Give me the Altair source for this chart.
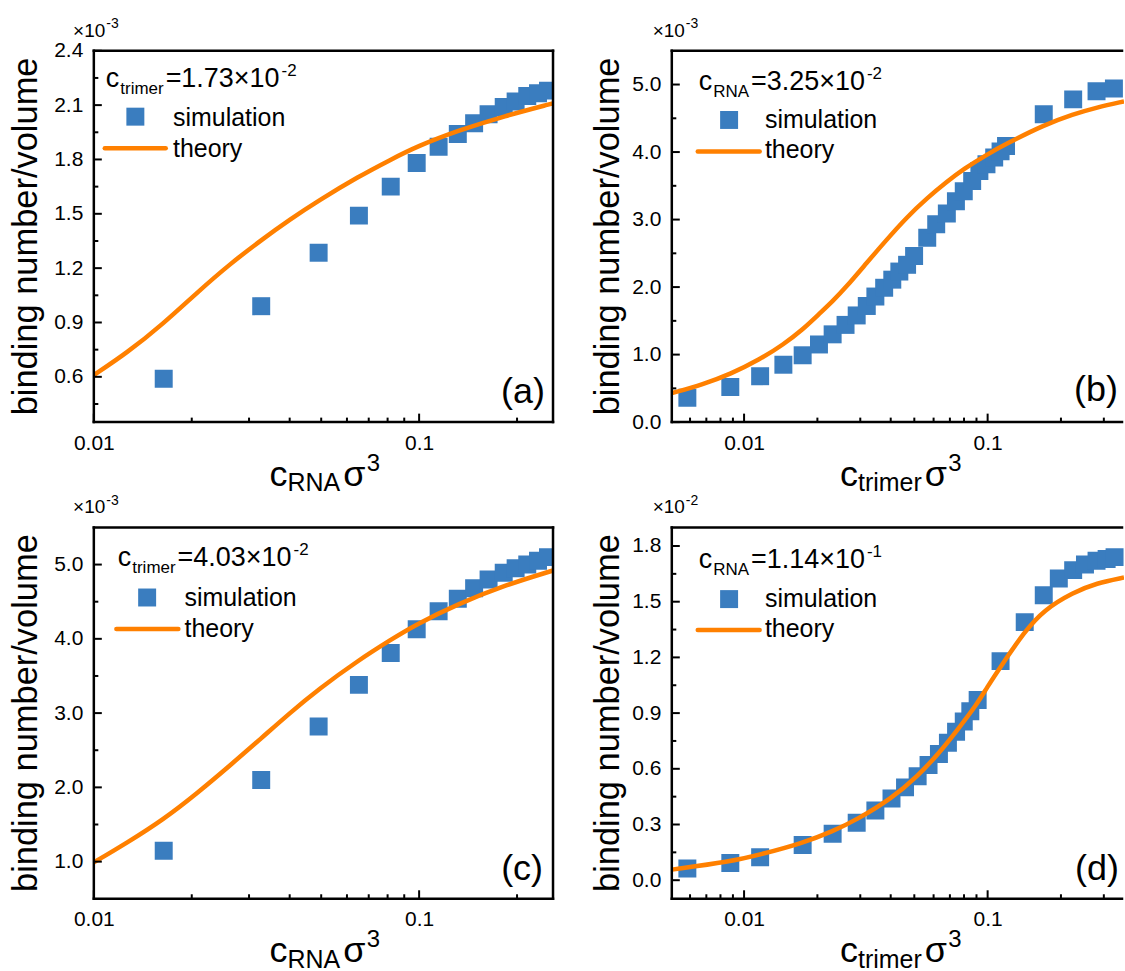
import altair as alt

FONT = "Liberation Sans"
BLUE = "#3A7DBF"
ORANGE = "#FF8000"

# ---------------- data ----------------
# panel (a): x = c_RNA sigma^3, y in units of 1e-3
a_sim_x = [0.0164, 0.0327, 0.0491, 0.0653, 0.0818, 0.0983, 0.1148, 0.1315, 0.1476, 0.1635, 0.182, 0.198, 0.215, 0.232, 0.249]
a_sim_y = [0.59, 0.99, 1.285, 1.49, 1.65, 1.78, 1.87, 1.94, 2.0, 2.05, 2.09, 2.12, 2.15, 2.165, 2.18]
a_th_x = [0.01, 0.0126, 0.0164, 0.0209, 0.0263, 0.0327, 0.04, 0.049, 0.065, 0.082, 0.0985, 0.132, 0.183, 0.258]
a_th_y = [0.61, 0.73, 0.895, 1.07, 1.225, 1.355, 1.468, 1.572, 1.705, 1.80, 1.872, 1.96, 2.04, 2.11]

# panel (c): x = c_RNA sigma^3, y in units of 1e-3
c_sim_x = a_sim_x
c_sim_y = [1.148, 2.10, 2.82, 3.38, 3.81, 4.13, 4.37, 4.54, 4.68, 4.80, 4.89, 4.95, 5.00, 5.05, 5.10]
c_th_x = a_th_x
c_th_y = [0.99, 1.25, 1.57, 1.93, 2.30, 2.66, 3.00, 3.32, 3.71, 3.99, 4.20, 4.47, 4.72, 4.92]

# panel (b): x = c_trimer sigma^3, y in units of 1e-3
b_sim_x = [0.00585, 0.00878, 0.01164, 0.0145, 0.0174, 0.0203, 0.0231, 0.0261, 0.029, 0.0319,
           0.0346, 0.0376, 0.0406, 0.0434, 0.0467, 0.0499, 0.0565, 0.0615, 0.068, 0.0741,
           0.0798, 0.0864, 0.0925, 0.0989, 0.1064, 0.113, 0.119, 0.170, 0.2245, 0.28, 0.33]
b_sim_y = [0.36, 0.52, 0.68, 0.85, 0.99, 1.15, 1.30, 1.44, 1.58, 1.72,
           1.86, 1.99, 2.11, 2.23, 2.33, 2.46, 2.73, 2.93, 3.09, 3.27,
           3.42, 3.57, 3.72, 3.82, 3.92, 4.01, 4.09, 4.56, 4.78, 4.90, 4.94]
b_th_x = [0.00505, 0.0068, 0.00878, 0.01164, 0.0145, 0.0174, 0.0203, 0.0231, 0.0261, 0.0319,
          0.0376, 0.0467, 0.0565, 0.068, 0.0798, 0.0989, 0.119, 0.170, 0.2245, 0.28, 0.363]
b_th_y = [0.43, 0.56, 0.71, 0.93, 1.15, 1.37, 1.60, 1.79, 1.99, 2.36,
          2.66, 3.04, 3.32, 3.56, 3.75, 3.96, 4.12, 4.40, 4.56, 4.66, 4.75]

# panel (d): x = c_trimer sigma^3, y in units of 1e-2
d_sim_x = [0.00585, 0.00878, 0.01164, 0.0174, 0.0231, 0.029, 0.0346, 0.0403, 0.0458, 0.0516,
           0.0572, 0.0631, 0.0687, 0.0742, 0.0798, 0.0849, 0.091, 0.113, 0.142, 0.170,
           0.196, 0.2245, 0.251, 0.28, 0.308, 0.332]
d_sim_y = [0.063, 0.093, 0.124, 0.19, 0.25, 0.31, 0.375, 0.44, 0.50, 0.56,
           0.62, 0.68, 0.74, 0.80, 0.855, 0.91, 0.97, 1.18, 1.39, 1.535,
           1.625, 1.67, 1.70, 1.72, 1.73, 1.74]
d_th_x = [0.00505, 0.00878, 0.01164, 0.0174, 0.0231, 0.029, 0.0403, 0.0516, 0.0631, 0.0742,
          0.091, 0.0989, 0.113, 0.142, 0.170, 0.2245, 0.28, 0.363]
d_th_y = [0.057, 0.10, 0.138, 0.20, 0.263, 0.326, 0.44, 0.56, 0.684, 0.80,
          0.953, 1.034, 1.15, 1.34, 1.455, 1.55, 1.60, 1.63]

# axis ticks
x_major = [0.01, 0.1]
a_x_minor = [0.02, 0.03, 0.04, 0.05, 0.06, 0.07, 0.08, 0.09, 0.2]
b_x_minor = [0.006, 0.007, 0.008, 0.009, 0.02, 0.03, 0.04, 0.05, 0.06, 0.07, 0.08, 0.09, 0.2, 0.3]
a_y_major = [0.6, 0.9, 1.2, 1.5, 1.8, 2.1, 2.4]
a_y_minor = [0.45, 0.75, 1.05, 1.35, 1.65, 1.95, 2.25]
b_y_major = [0.0, 1.0, 2.0, 3.0, 4.0, 5.0]
b_y_minor = [0.5, 1.5, 2.5, 3.5, 4.5]
c_y_major = [1.0, 2.0, 3.0, 4.0, 5.0]
c_y_minor = [1.5, 2.5, 3.5, 4.5]
d_y_major = [0.0, 0.3, 0.6, 0.9, 1.2, 1.5, 1.8]
d_y_minor = [0.15, 0.45, 0.75, 1.05, 1.35, 1.65]

# ---------------- layout ----------------
W1, W2, H = 460, 453, 372
COL_GAP, ROW_GAP = 119, 105.5

ARIAL = {'c': 500, 't': 278, 'r': 333, 'i': 222, 'm': 833, 'e': 556, 'R': 722, 'N': 722,
         'A': 667, '=': 584, '.': 278, '\u00d7': 584, '-': 333, '\u03c3': 600, '(': 333, ')': 333}


def tw(s, fs):
    return sum(ARIAL.get(ch, 556) for ch in s) * fs / 1000.0


ONE = alt.Data(values=[{}])


def txt(s, x, y, fs, angle=0, align="left"):
    return alt.Chart(ONE).mark_text(
        text=s, fontSize=fs, font=FONT, align=align, baseline="alphabetic",
        angle=angle, color="black"
    ).encode(x=alt.value(x), y=alt.value(y))


def rich(parts, x0, y0):
    layers = []
    x = x0
    for text, fs, dy, gap in parts:
        x += gap
        layers.append(txt(text, x, y0 + dy, fs))
        x += tw(text, fs)
    return layers


def panel(sim_x, sim_y, th_x, th_y, xdom, ydom, ymaj, ymin, xmin_ticks, W,
          annot, annot_xy, xtitle, xtitle_x, ytitle_x, mult, mult_x,
          leg_sq, leg_line, leg_text_x, leg_base, label, label_xy, right_border, anchor=False):
    xs = alt.Scale(type="log", domain=xdom, nice=False)
    ys = alt.Scale(domain=ydom, nice=False, zero=False)
    layers = []
    sim = alt.Chart(alt.Data(values=[{"x": x, "y": y} for x, y in zip(sim_x, sim_y)])).mark_square(
        size=324, color=BLUE, opacity=1, clip=True
    ).encode(
        x=alt.X("x:Q", scale=xs, axis=alt.Axis(values=x_major, format="~g", title=None,
                                                labelPadding=10, orient="bottom", labelFlush=False)),
        y=alt.Y("y:Q", scale=ys, axis=alt.Axis(values=ymaj, format=".1f", title=None,
                                                labelPadding=11, orient="left", labelFlush=False)),
    )
    layers.append(sim)
    th = alt.Chart(alt.Data(values=[{"x": x, "y": y} for x, y in zip(th_x, th_y)])).mark_line(
        color=ORANGE, strokeWidth=4.5, clip=True, interpolate="basis"
    ).encode(x=alt.X("x:Q", scale=xs), y=alt.Y("y:Q", scale=ys))
    layers.append(th)

    # ticks (drawn inward)
    for vals, ln in ((ymaj, 8), (ymin, 4.5)):
        layers.append(alt.Chart(alt.Data(values=[{"x": v} for v in vals])).mark_rule(
            color="black", strokeWidth=2).encode(
            y=alt.Y("x:Q", scale=ys), x=alt.value(0), x2=alt.value(ln)))
    for vals, ln in ((x_major, 8.5), (xmin_ticks, 4.5)):
        layers.append(alt.Chart(alt.Data(values=[{"x": v} for v in vals])).mark_rule(
            color="black", strokeWidth=2).encode(
            x=alt.X("x:Q", scale=xs), y=alt.value(H), y2=alt.value(H - ln)))

    # frame
    fr = dict(color="black", strokeWidth=2.5)
    xr = W if right_border else W - 2
    layers.append(alt.Chart(ONE).mark_rule(strokeCap="square", **fr).encode(
        x=alt.value(0), x2=alt.value(xr), y=alt.value(0)))
    layers.append(alt.Chart(ONE).mark_rule(strokeCap="square", **fr).encode(
        x=alt.value(0), x2=alt.value(xr), y=alt.value(H)))
    layers.append(alt.Chart(ONE).mark_rule(strokeCap="square", **fr).encode(
        x=alt.value(0), y=alt.value(0), y2=alt.value(H)))
    if right_border:
        layers.append(alt.Chart(ONE).mark_rule(strokeCap="square", **fr).encode(
            x=alt.value(W), y=alt.value(0), y2=alt.value(H)))

    # annotation
    layers += rich(annot, annot_xy[0], annot_xy[1])
    # legend
    layers.append(alt.Chart(ONE).mark_square(size=324, color=BLUE, opacity=1).encode(
        x=alt.value(leg_sq[0]), y=alt.value(leg_sq[1])))
    layers.append(alt.Chart(ONE).mark_rule(color=ORANGE, strokeWidth=4.5, strokeCap="round").encode(
        x=alt.value(leg_line[0]), x2=alt.value(leg_line[1]), y=alt.value(leg_line[2])))
    layers.append(txt("simulation", leg_text_x, leg_base[0], 25))
    layers.append(txt("theory", leg_text_x, leg_base[1], 25))
    # panel label
    layers.append(txt(label, label_xy[0], label_xy[1], 36, align="right"))
    # axis titles
    layers += rich(xtitle, xtitle_x, H + 63.5)
    layers.append(txt("binding number/volume", ytitle_x, H / 2, 34.5, angle=270, align="center"))
    # multiplier
    layers += rich(mult, mult_x, -14)
    if anchor:
        layers.append(alt.Chart(ONE).mark_rule(opacity=0).encode(
            x=alt.value(-93), x2=alt.value(-92), y=alt.value(-49)))
    return alt.layer(*layers).properties(width=W, height=H)


def ann(sub, val, sup):
    return [("c", 27, 0, 0), (sub, 17, 7, 1), ("=" + val + "\u00d710", 27, 0, 2), (sup, 17, -11, 2)]


def xt(sub):
    return [("c", 36, 0, 0), (sub, 25, 6, 0), ("\u03c3", 36, 0, 3), ("3", 24, -15, 2)]


def mult(exp):
    return [("\u00d710", 19, 0, 0), (exp, 14, -8.5, 1)]


pa = panel(a_sim_x, a_sim_y, a_th_x, a_th_y, [0.01, 0.258], [0.35, 2.4], a_y_major, a_y_minor, a_x_minor, W1,
           ann("trimer", "1.73", "-2"), (12, 36), xt("RNA"), 176, -57, mult("-3"), -20.8,
           (41.6, 66), (11, 72, 97.7), 79.3, (75, 106), "(a)", (452, 353), True, anchor=True)
pb = panel(b_sim_x, b_sim_y, b_th_x, b_th_y, [0.00505, 0.363], [0.0, 5.5], b_y_major, b_y_minor, b_x_minor, W2,
           ann("RNA", "3.25", "-2"), (27, 39), xt("trimer"), 168.5, -53, mult("-3"), -19.2,
           (57.4, 69.3), (26, 88, 101), 93.3, (77.7, 107.7), "(b)", (447, 351), False)
pc = panel(c_sim_x, c_sim_y, c_th_x, c_th_y, [0.01, 0.258], [0.5, 5.5], c_y_major, c_y_minor, a_x_minor, W1,
           ann("trimer", "4.03", "-2"), (24, 38.5), xt("RNA"), 176, -57, mult("-3"), -20.8,
           (53.4, 70.2), (22.6, 84.7, 101.8), 90.8, (78.5, 110.2), "(c)", (450, 353), True)
pd_ = panel(d_sim_x, d_sim_y, d_th_x, d_th_y, [0.00505, 0.363], [-0.1, 1.9], d_y_major, d_y_minor, b_x_minor, W2,
            ann("RNA", "1.14", "-1"), (27, 40.8), xt("trimer"), 168.5, -53, mult("-2"), -19.2,
            (57.4, 71.8), (26, 88, 102.8), 93.3, (79.5, 110.2), "(d)", (448, 353), False)

chart = alt.concat(
    pa, pb, pc, pd_, columns=2, spacing={"row": ROW_GAP, "column": COL_GAP}, bounds="flush"
).properties(padding=0, background="white").configure_view(
    stroke="transparent"
).configure_axis(
    grid=False, ticks=False, domain=False, labelFont=FONT, labelFontSize=21, labelColor="black"
)

chart.save("out.html", embed_options={"renderer": "svg", "actions": False})
